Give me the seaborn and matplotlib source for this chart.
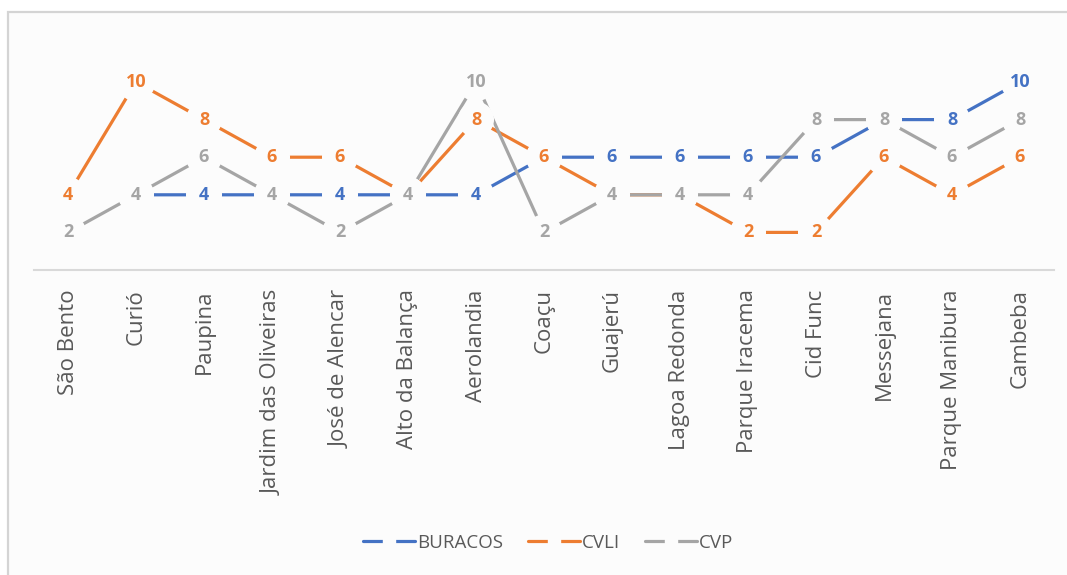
import numpy as np
import pandas as pd
import seaborn as sns
import matplotlib.pyplot as plt
from matplotlib.lines import Line2D
from matplotlib.patches import Rectangle

bairros = ["São Bento", "Curió", "Paupina", "Jardim das Oliveiras", "José de Alencar",
           "Alto da Balança", "Aerolandia", "Coaçu", "Guajerú", "Lagoa Redonda",
           "Parque Iracema", "Cid Func", "Messejana", "Parque Manibura", "Cambeba"]
buracos = [np.nan, 4, 4, 4, 4, 4, 4, 6, 6, 6, 6, 6, 8, 8, 10]
cvli = [4, 10, 8, 6, 6, 4, 8, 6, 4, 4, 2, 2, 6, 4, 6]
cvp = [2, 4, 6, 4, 2, 4, 10, 2, 4, 4, 4, 8, 8, 6, 8]

series = ["BURACOS", "CVLI", "CVP"]
cores = {"BURACOS": "#4472C4", "CVLI": "#ED7D31", "CVP": "#A5A5A5"}

pos = np.arange(len(bairros))
df = pd.concat([
    pd.DataFrame({"pos": pos, "valor": vals, "serie": nome})
    for nome, vals in zip(series, [buracos, cvli, cvp])
]).dropna()

sns.set_theme(style="white")
plt.rcParams["font.family"] = ["Open Sans", "DejaVu Sans"]

bg = "#fcfcfc"
fig = plt.figure(figsize=(10.67, 5.75), dpi=100, facecolor="white")
fig.patches.append(Rectangle((8 / 1067, -0.1), 1.2, (575 - 12) / 575 + 0.1,
                             transform=fig.transFigure, facecolor=bg,
                             edgecolor="#d4d4d4", lw=1.6, zorder=-10))

ax = fig.add_axes([34 / 1067, 1 - 270 / 575, (1054 - 34) / 1067, (270 - 44.4) / 575])
ax.set_facecolor("none")
ax.set_zorder(1)

sns.lineplot(data=df, x="pos", y="valor", hue="serie", hue_order=series,
             palette=cores, linewidth=2.3, sort=False, legend=False, ax=ax,
             zorder=2)

# value labels, with a background disc that breaks the line around each point
for z, (nome, vals) in enumerate(zip(series, [buracos, cvli, cvp])):
    for x, v in zip(pos, vals):
        if np.isnan(v):
            continue
        ax.text(x, v, f"{int(v)}", ha="center", va="center", fontsize=13,
                fontweight="bold", color=cores[nome], zorder=5 + z,
                bbox=dict(boxstyle="circle,pad=0.5", fc=bg, ec="none"))

ax.set_xlim(-0.5, len(bairros) - 0.5)
ax.set_ylim(0, 12)
ax.set_xticks(pos)
ax.set_xticklabels(bairros, rotation=90, fontsize=16, color="#595959")
ax.tick_params(axis="x", length=0, pad=14)
ax.set_yticks([])
ax.set_xlabel("")
ax.set_ylabel("")
for s in ["top", "left", "right"]:
    ax.spines[s].set_visible(False)
ax.spines["bottom"].set_color("#d9d9d9")
ax.spines["bottom"].set_linewidth(1.5)

handles = [Line2D([0], [0], color=cores[n], lw=2.3, marker="s", markersize=9,
                  markerfacecolor=bg, markeredgecolor=bg) for n in series]
fig.legend(handles, series, loc="center", bbox_to_anchor=(548 / 1067, 1 - 543 / 575),
           ncol=3, frameon=False, fontsize=13.5, labelcolor="#595959",
           handlelength=2.8, handletextpad=0.1, columnspacing=1.3, numpoints=1)

fig.savefig("out.png", dpi=100, facecolor="white")
